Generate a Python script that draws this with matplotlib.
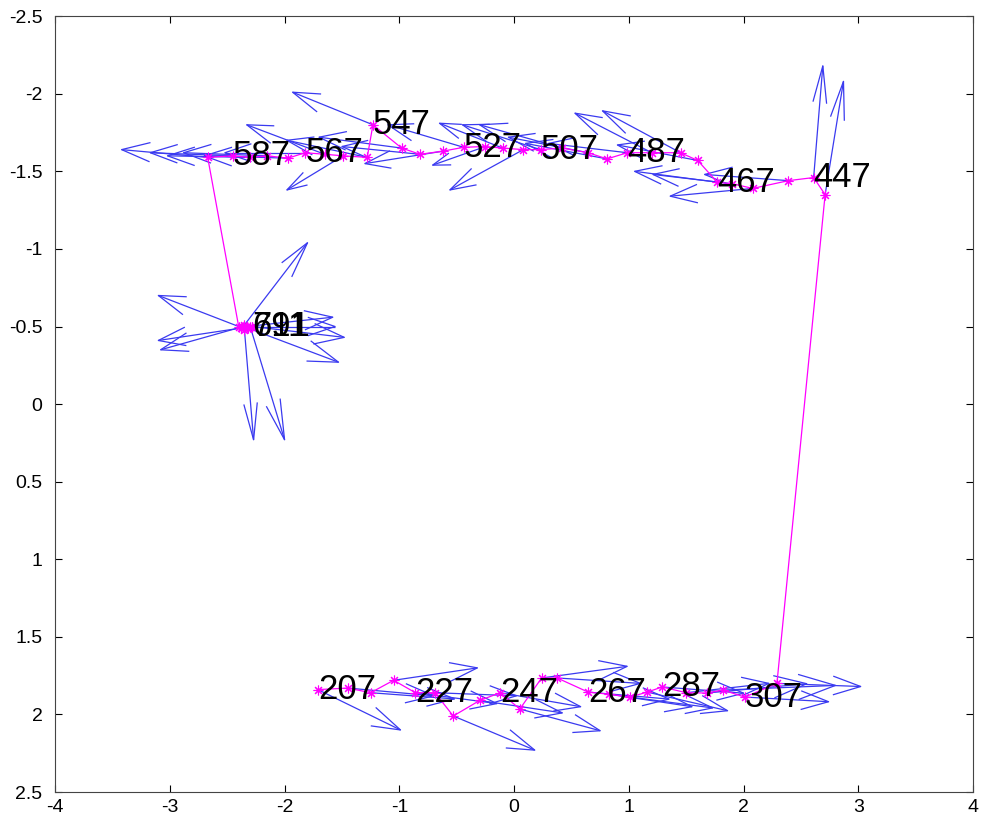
import matplotlib
matplotlib.use('Agg')
import matplotlib.pyplot as plt
import numpy as np
from matplotlib.collections import LineCollection

plt.rcParams['font.family'] = ['Liberation Sans', 'DejaVu Sans']

# frame numbers of the tracked points (three recorded stretches)
frames_bottom = [207, 212, 217, 222, 227, 232, 237, 242, 247, 252, 257,
                 262, 267, 272, 277, 282, 287, 292, 297, 302, 307, 312]
frames_top = [442, 447, 452, 457, 462, 467, 472, 477, 482, 487, 492,
              497, 502, 507, 512, 517, 522, 527, 532, 537, 542, 547,
              552, 557, 562, 567, 572, 577, 582, 587, 592]
frames_end = [666, 671, 676, 681, 686, 691, 696, 701, 706, 711]

# positions
x_bottom = [-1.71, -1.45, -1.25, -1.05, -0.86, -0.69, -0.53, -0.30, -0.12, 0.05, 0.24,
            0.375, 0.645, 0.83, 1.01, 1.16, 1.29, 1.50, 1.68, 1.82, 2.01, 2.29]
y_bottom = [1.84, 1.83, 1.86, 1.78, 1.86, 1.86, 2.01, 1.91, 1.86, 1.965, 1.765,
            1.765, 1.856, 1.87, 1.888, 1.856, 1.823, 1.86, 1.862, 1.843, 1.888, 1.80]
x_top = [2.71, 2.61, 2.39, 2.08, 1.90, 1.77, 1.60, 1.45, 1.20, 0.985, 0.81,
         0.645, 0.42, 0.23, 0.08, -0.10, -0.25, -0.44, -0.62, -0.82, -0.98, -1.23,
         -1.28, -1.49, -1.65, -1.82, -1.97, -2.15, -2.30, -2.45, -2.67]
y_top = [-1.35, -1.46, -1.44, -1.39, -1.42, -1.43, -1.57, -1.62, -1.62, -1.62, -1.58,
         -1.62, -1.65, -1.64, -1.64, -1.65, -1.66, -1.655, -1.63, -1.61, -1.65, -1.80,
         -1.59, -1.60, -1.61, -1.62, -1.585, -1.60, -1.59, -1.60, -1.59]
x_end = [-2.40, -2.38, -2.36, -2.35, -2.33, -2.28, -2.32, -2.35, -2.30, -2.28]
y_end = [-0.50, -0.49, -0.50, -0.51, -0.50, -0.50, -0.49, -0.48, -0.50, -0.50]

# direction vectors
u_bottom = [0.72, 0.75, 0.73, 0.73, 0.71, 0.71, 0.71, 0.72, 0.70, 0.70, 0.745,
            0.725, 0.705, 0.72, 0.72, 0.70, 0.71, 0.72, 0.87, 0.98, 0.73, 0.73]
v_bottom = [0.26, 0.05, 0.04, -0.08, 0.07, 0.02, 0.22, 0.08, 0.09, 0.14, -0.075,
            0.035, 0.045, 0.08, 0.07, 0.12, 0.04, -0.06, -0.06, -0.03, 0.03, 0.02]
u_top = [0.16, 0.08, -0.73, -0.72, -0.69, -0.72, -0.70, -0.68, -0.67, -0.685, -0.71,
         -0.695, -0.72, -0.68, -0.64, -0.55, -0.46, -0.66, -0.68, -0.68, -0.72, -0.70,
         -0.70, -0.49, -0.68, -0.70, -0.73, -0.73, -0.72, -0.72, -0.75]
v_top = [-0.73, -0.72, -0.04, 0.05, -0.06, -0.07, -0.10, -0.27, -0.255, -0.06, -0.10,
         -0.10, -0.15, -0.16, 0.26, -0.16, 0.12, -0.145, 0.08, -0.05, -0.07, -0.21,
         -0.11, 0.22, -0.19, 0.0, -0.015, -0.02, -0.01, -0.02, -0.05]
u_end = [-0.70, -0.72, -0.72, 0.55, 0.75, 0.80, 0.79, 0.08, 0.30, 0.72]
v_end = [-0.20, 0.08, 0.15, -0.53, -0.06, 0.07, 0.22, 0.71, 0.73, 0.0]

label_frames = [207, 227, 247, 267, 287, 307, 447, 467, 487, 507, 527,
                547, 567, 587, 691, 711]

frames = np.array(frames_bottom + frames_top + frames_end)
x = np.array(x_bottom + x_top + x_end)
y = np.array(y_bottom + y_top + y_end)
u = np.array(u_bottom + u_top + u_end)
v = np.array(v_bottom + v_top + v_end)

fig = plt.figure(figsize=(9.83, 8.21), dpi=100)
ax = fig.add_axes([0.056, 0.0353, 0.934, 0.945])

# quiver-style arrows with open heads
alpha, beta = 0.33, 0.25
tx, ty = x + u, y + v
shafts = np.stack([np.column_stack([x, y]), np.column_stack([tx, ty])], axis=1)
heads = np.stack([
    np.column_stack([tx - alpha * (u + beta * v), ty - alpha * (v - beta * u)]),
    np.column_stack([tx, ty]),
    np.column_stack([tx - alpha * (u - beta * v), ty - alpha * (v + beta * u)]),
], axis=1)
blue = '#3a3af0'
ax.add_collection(LineCollection(list(shafts), colors=blue, linewidths=0.9))
ax.add_collection(LineCollection(list(heads), colors=blue, linewidths=0.9))

ax.plot(x, y, color='#ff00ff', lw=0.9, marker=(8, 2, 0), ms=7, mew=0.8)

for f in label_frames:
    i = int(np.where(frames == f)[0][0])
    ax.text(x[i], y[i], str(f), fontsize=25, ha='left', va='center', color='black')

ax.set_xlim(-4, 4)
ax.set_ylim(2.5, -2.5)
xt = np.arange(-4, 4.01, 1)
yt = np.arange(-2.5, 2.51, 0.5)
ax.set_xticks(xt)
ax.set_xticklabels(['%g' % t for t in xt])
ax.set_yticks(yt)
ax.set_yticklabels(['%g' % (t + 0.0) for t in yt])
ax.tick_params(direction='in', top=True, right=True, length=5, labelsize=14, width=0.8)
ax.tick_params(axis='y', pad=9)
ax.tick_params(axis='x', pad=5)
for s in ax.spines.values():
    s.set_color('#444444')
    s.set_linewidth(0.8)

fig.savefig('out.png', dpi=100)
